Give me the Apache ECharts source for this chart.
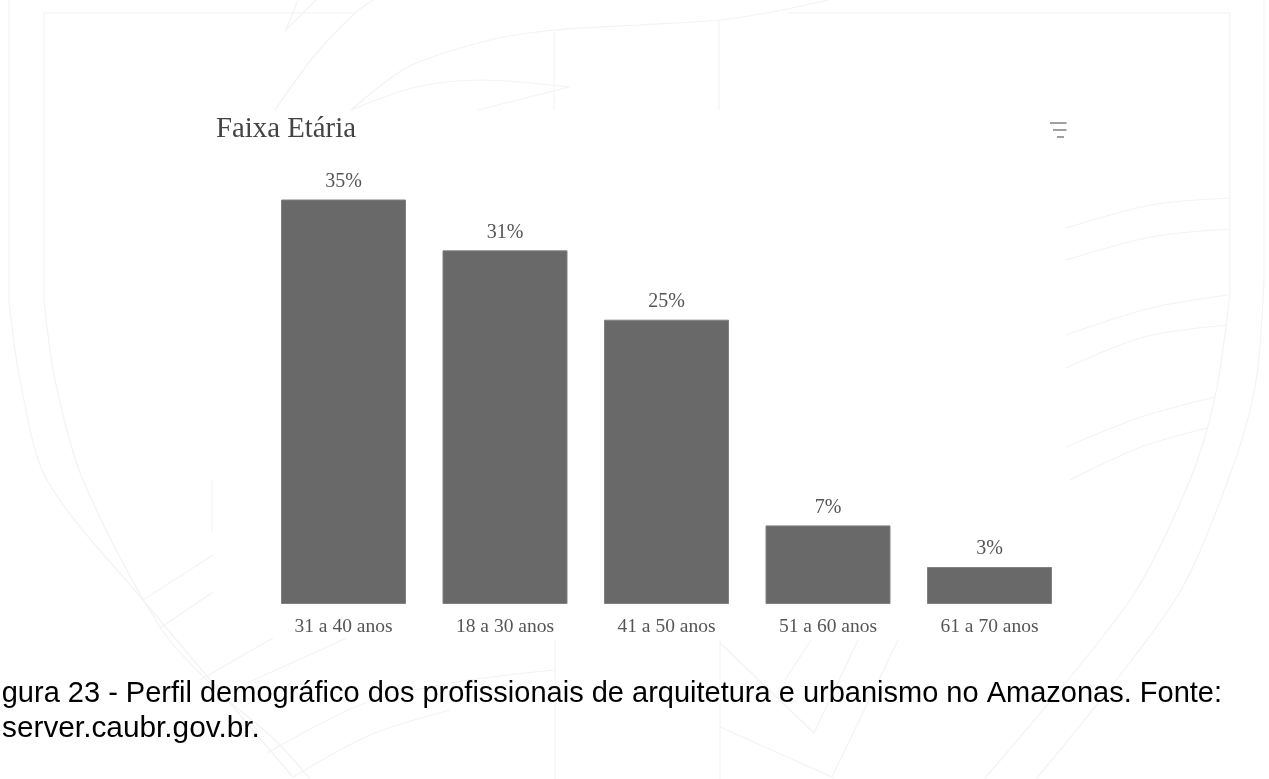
<!DOCTYPE html>
<html>
<head>
<meta charset="utf-8">
<style>html,body{margin:0;padding:0;background:#fff;overflow:hidden}#c{width:1269px;height:779px}</style>
<script src="https://cdn.jsdelivr.net/npm/echarts@6/dist/echarts.min.js"></script>
</head>
<body>
<div id="c"></div>
<script>
const categories = ['31 a 40 anos','18 a 30 anos','41 a 50 anos','51 a 60 anos','61 a 70 anos'];
const shares = [35, 30.6, 24.6, 6.8, 3.2];
const titleText = 'Faixa Etária';
const captionLine1 = 'Figura 23 - Perfil demográfico dos profissionais de arquitetura e urbanismo no Amazonas. Fonte:';
const captionLine2 = 'server.caubr.gov.br.';

// faint background watermark (decoration, not data)
const wmStraight = [
 [[44,13],[355,13]], [[44,13],[44,300]], [[9,0],[9,300]],
 [[212,480],[212,533]],
 [[143,600],[213,555]], [[160,628],[213,592]],
 [[200,680],[273,638]], [[247,683],[347,638]],
 [[298,0],[286,30],[316,0]],
 [[554,30],[554,110]], [[719,20],[719,110]],
 [[788,13],[1230,13]], [[1230,13],[1230,293]], [[1264,0],[1264,280]],
 [[555,640],[555,779]], [[720,640],[720,779]],
 [[720,643],[814,733],[858,640]], [[720,727],[832,777],[898,640]],
 [[811,640],[785,680]]
];
const wmCurves = [
 [[9,300],[20,380],[47,480],[143,600],[293,777]],
 [[44,300],[55,380],[83,480],[160,627],[220,693],[275,740],[310,779]],
 [[267,753],[360,705],[450,683],[555,670]], [[293,777],[370,735],[450,710]],
 [[373,0],[355,13],[315,55],[275,110]],
 [[351,110],[408,67],[490,40],[555,30],[640,25],[720,20],[772,12],[829,0]],
 [[351,110],[416,87],[482,80],[569,87]],
 [[1264,280],[1255,387],[1228,480],[1175,600],[1036,779]],
 [[1230,293],[1215,397],[1190,480],[1130,600],[984,779]],
 [[1066,228],[1151,205],[1230,198]], [[1066,260],[1151,237],[1230,229]],
 [[1066,335],[1151,308],[1228,295]], [[1066,368],[1144,337],[1227,325]],
 [[1066,447],[1141,417],[1215,397]], [[1070,480],[1141,447],[1207,428]]
];
const wmTip = [[569,87],[478,110]];
const iconLines = [[1050,1066.5,123],[1053,1066.5,130],[1057,1064,137]];

const wmStyle = {stroke:'#f3f3f3', lineWidth:1.2, fill:null};
const graphics = wmStraight.concat([wmTip]).map(p => ({
  type:'polyline', silent:true, z:0, shape:{points:p}, style:wmStyle
})).concat(wmCurves.map(p => ({
  type:'polyline', silent:true, z:0, shape:{points:p, smooth:0.3}, style:wmStyle
})));
iconLines.forEach(l => graphics.push({
  type:'line', silent:true, z:5,
  shape:{x1:l[0],y1:l[2],x2:l[1],y2:l[2]},
  style:{stroke:'#808080', lineWidth:1.5}
}));
graphics.push(
  {type:'text', z:5, x:216, y:115, style:{text:titleText, font:'28.8px "Liberation Serif"', fill:'#444', textVerticalAlign:'top'}},
  {type:'text', z:5, x:1222, y:679, style:{text:captionLine1, font:'29px "Liberation Sans"', fill:'#000', textAlign:'right', textVerticalAlign:'top'}},
  {type:'text', z:5, x:2, y:714, style:{text:captionLine2, font:'29.8px "Liberation Sans"', fill:'#000', textVerticalAlign:'top'}}
);

const chart = echarts.init(document.getElementById('c'), null, {renderer:'canvas'});
chart.setOption({
  animation:false,
  backgroundColor:'#fff',
  grid:{left:262.75, top:199.5, width:807.5, height:404.5, containLabel:false},
  xAxis:{type:'category', data:categories,
    axisLine:{show:false}, axisTick:{show:false},
    axisLabel:{margin:13, color:'#555', fontFamily:'Liberation Serif', fontSize:19.5, interval:0}},
  yAxis:{type:'value', min:0, max:35, show:false, splitLine:{show:false}},
  series:[{type:'bar', data:shares, barWidth:125,
    itemStyle:{color:'#696969', borderColor:'#808080', borderWidth:1},
    label:{show:true, position:'top', distance:8, color:'#555', fontFamily:'Liberation Serif', fontSize:20,
      formatter:p => Math.round(p.value)+'%'}}],
  graphic:{elements:graphics}
});
</script>
</body>
</html>
